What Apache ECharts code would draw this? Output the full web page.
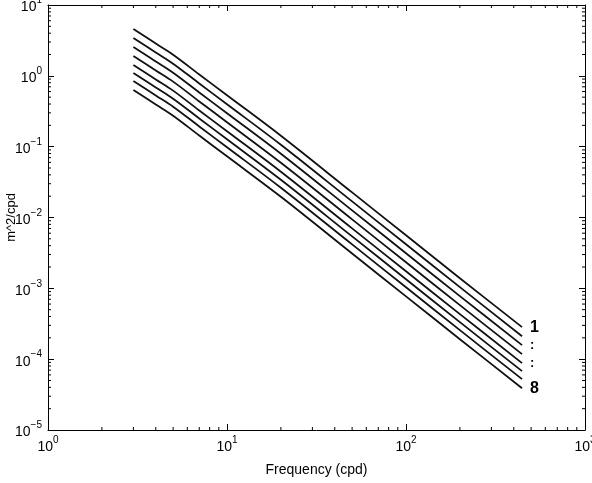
<!DOCTYPE html>
<html lang="en">

<head>
    <meta charset="UTF-8">
    <title>Spectra</title>
    <script src="https://cdn.jsdelivr.net/npm/echarts@6/dist/echarts.min.js"></script>
    <style>
        body { margin: 0; background: #fff; }
        #chart { width: 592px; height: 483px; }
    </style>
</head>

<body>
    <div id="chart"></div>
    <script>
        // frequencies (cpd) shared by all 8 curves
        var freqs = [3, 4, 5, 7, 10, 20, 50, 100, 200, 445]

        // m^2/cpd, curve 1 on top ... curve 8 at the bottom
        var line1 = [4.58, 2.86, 1.99, 1.045, 0.532, 0.1426, 0.0226, 0.00561, 0.00139, 0.000283]
        var line2 = [3.42, 2.14, 1.486, 0.780, 0.397, 0.1064, 0.01687, 0.00419, 0.00104, 0.000211]
        var line3 = [2.55, 1.596, 1.109, 0.582, 0.2965, 0.0794, 0.01259, 0.00313, 0.000776, 0.000158]
        var line4 = [1.905, 1.191, 0.828, 0.435, 0.2213, 0.0593, 0.0094, 0.00233, 0.000579, 0.0001178]
        var line5 = [1.422, 0.889, 0.618, 0.324, 0.1652, 0.0443, 0.00702, 0.00174, 0.000433, 0.0000879]
        var line6 = [1.096, 0.685, 0.476, 0.250, 0.1274, 0.0341, 0.00541, 0.001343, 0.000333, 0.0000678]
        var line7 = [0.845, 0.528, 0.367, 0.1928, 0.0982, 0.0263, 0.00417, 0.001035, 0.000257, 0.0000522]
        var line8 = [0.630, 0.394, 0.2735, 0.1436, 0.0731, 0.0196, 0.00310, 0.000771, 0.0001914, 0.0000389]
        var lines = [line1, line2, line3, line4, line5, line6, line7, line8]

        // text next to the right ends of the curves ('' = no label)
        var endLabels = ['1', '', ':', '', ':', '', '', '8']

        var xExps = [0, 1, 2, 3]
        var yExps = [-5, -4, -3, -2, -1, 0, 1]

        var font = 'Liberation Sans, Arial, sans-serif'

        function pow10Label(v) {
            var e = Math.round(Math.log10(v))
            var s = e < 0 ? '\u2212' + (-e) : '' + e
            return '{b|10}{s|' + s + '}'
        }
        var richPow = {
            b: { fontSize: 14, fontFamily: font, color: '#000', lineHeight: 19, verticalAlign: 'bottom' },
            s: { fontSize: 10, fontFamily: font, color: '#000', lineHeight: 19, verticalAlign: 'top', padding: [0, 0, 7, 0] }
        }

        // minor ticks 2..9 of each decade
        var minorData = []
        xExps.slice(0, -1).forEach(function(e) {
            for (var k = 2; k <= 9; k++) minorData.push([k * Math.pow(10, e), 1e-5, 0])
        })
        yExps.slice(0, -1).forEach(function(e) {
            for (var k = 2; k <= 9; k++) minorData.push([1, k * Math.pow(10, e), 1])
        })

        var axisLine = { show: true, lineStyle: { color: '#000', width: 1 } }

        var series = lines.map(function(vals, i) {
            return {
                type: 'line',
                data: freqs.map(function(f, j) { return [f, vals[j]] }),
                showSymbol: false,
                smooth: 0.35,
                lineStyle: { color: '#111', width: 1.8 },
                endLabel: {
                    show: endLabels[i] !== '',
                    formatter: endLabels[i],
                    distance: 8,
                    fontSize: endLabels[i] === ':' ? 13 : 16,
                    fontWeight: 'bold',
                    fontFamily: font,
                    color: '#000'
                },
                silent: true
            }
        })

        series.push({
            type: 'custom',
            data: minorData,
            clip: false,
            silent: true,
            renderItem: function(params, api) {
                var kind = api.value(2)
                var len = 3
                var style = { stroke: '#000', lineWidth: 1 }
                if (kind === 0) {
                    var b = api.coord([api.value(0), 1e-5])
                    var t = api.coord([api.value(0), 10])
                    return {
                        type: 'group',
                        children: [
                            { type: 'line', shape: { x1: b[0], y1: b[1], x2: b[0], y2: b[1] - len }, style: style },
                            { type: 'line', shape: { x1: t[0], y1: t[1], x2: t[0], y2: t[1] + len }, style: style }
                        ]
                    }
                }
                var l = api.coord([1, api.value(1)])
                var r = api.coord([1000, api.value(1)])
                return {
                    type: 'group',
                    children: [
                        { type: 'line', shape: { x1: l[0], y1: l[1], x2: l[0] + len, y2: l[1] }, style: style },
                        { type: 'line', shape: { x1: r[0], y1: r[1], x2: r[0] - len, y2: r[1] }, style: style }
                    ]
                }
            }
        })

        var option = {
            animation: false,
            grid: { left: 48, right: 7, top: 5, bottom: 53, containLabel: false, outerBoundsMode: 'none' },
            xAxis: [{
                type: 'log',
                logBase: 10,
                min: 1,
                max: 1000,
                axisLine: axisLine,
                axisTick: { show: true, inside: true, length: 6, lineStyle: { color: '#000' } },
                splitLine: { show: false },
                axisLabel: { formatter: pow10Label, rich: richPow, margin: 5, showMaxLabel: true },
                name: 'Frequency (cpd)',
                nameLocation: 'middle',
                nameGap: 33,
                nameMoveOverlap: false,
                nameTextStyle: { fontSize: 14, fontFamily: font, color: '#000' }
            }, {
                type: 'log',
                logBase: 10,
                min: 1,
                max: 1000,
                position: 'top',
                axisLine: axisLine,
                axisTick: { show: true, inside: true, length: 6, lineStyle: { color: '#000' } },
                splitLine: { show: false },
                axisLabel: { show: false }
            }],
            yAxis: [{
                type: 'log',
                logBase: 10,
                min: 1e-5,
                max: 10,
                axisLine: axisLine,
                axisTick: { show: true, inside: true, length: 6, lineStyle: { color: '#000' } },
                splitLine: { show: false },
                axisLabel: { formatter: pow10Label, rich: richPow, margin: 6, showMaxLabel: true, showMinLabel: true },
                name: 'm^2/cpd',
                nameLocation: 'middle',
                nameGap: 30,
                nameRotate: 90,
                nameMoveOverlap: false,
                nameTextStyle: { fontSize: 13, fontFamily: font, color: '#000' }
            }, {
                type: 'log',
                logBase: 10,
                min: 1e-5,
                max: 10,
                position: 'right',
                axisLine: axisLine,
                axisTick: { show: true, inside: true, length: 6, lineStyle: { color: '#000' } },
                splitLine: { show: false },
                axisLabel: { show: false }
            }],
            series: series
        }

        var mCharts = echarts.init(document.getElementById('chart'))
        mCharts.setOption(option)
    </script>
</body>

</html>
